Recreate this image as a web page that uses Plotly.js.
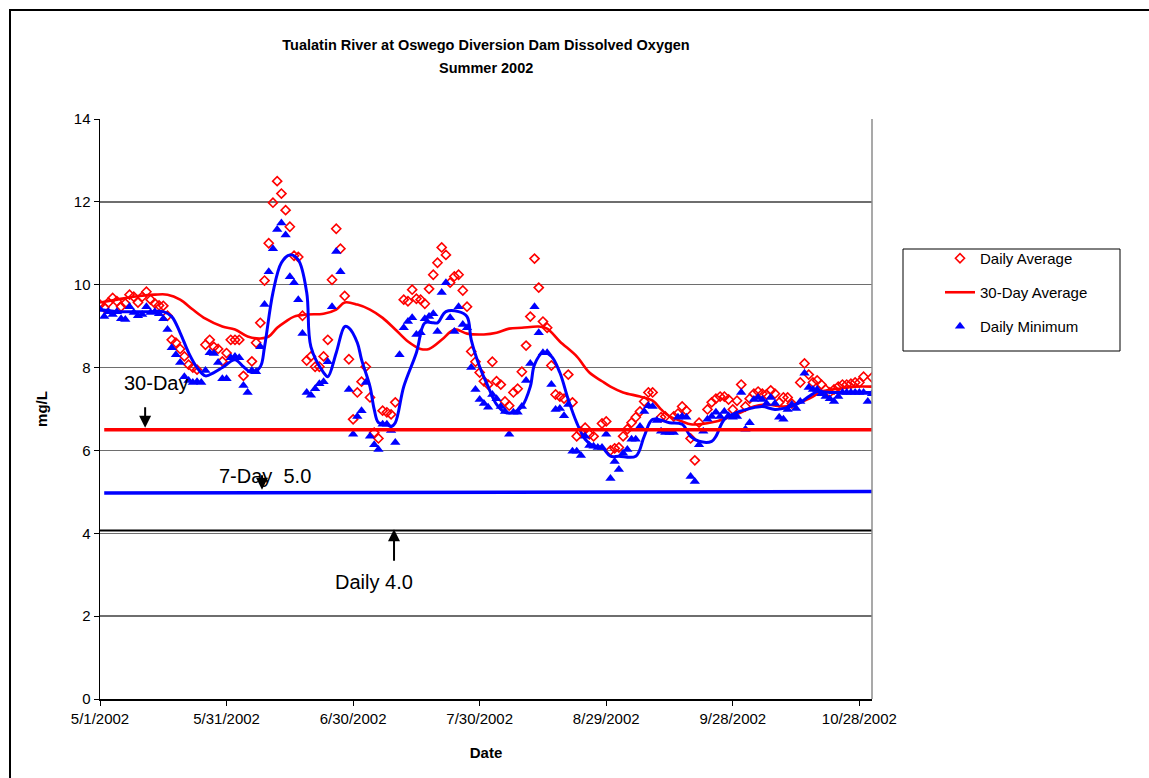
<!DOCTYPE html>
<html>
<head>
<meta charset="utf-8">
<script src="https://cdn.plot.ly/plotly-3.0.1.min.js"></script>
<style>
  html, body { margin: 0; padding: 0; background: #fff; overflow: hidden; }
  #chart { width: 1149px; height: 778px; }
  #frame { position: absolute; left: 9px; top: 9px; width: 1300px; height: 900px;
           border-left: 2px solid #000; border-top: 2px solid #000; pointer-events: none; }
</style>
</head>
<body>
<div id="chart"></div>
<div id="frame"></div>
<script>
// ---------- data (day 0 = 5/1/2002) ----------
const startDate = '2002-05-01';

const dailyAverage = [
  9.52, 9.45, 9.57, 9.68, 9.6, 9.47, 9.55, 9.76, 9.71, 9.57,
  9.71, 9.83, 9.64, 9.55, 9.5, 9.49, 9.25, 8.67, 8.6, 8.45,
  8.27, 8.07, 8.0, 7.95, null, 8.55, 8.67, 8.5, 8.45, 8.15,
  8.35, 8.67, 8.67, 8.67, 7.8, null, 8.15, 8.6, 9.08, 10.1,
  11.0, 11.98, 12.5, 12.2, 11.8, 11.4, 10.7, 10.67, 9.25, 8.17,
  8.27, 8.02, 8.02, 8.27, 8.67, 10.12, 11.35, 10.87, 9.73, 8.2,
  6.75, 7.4, 7.66, 8.02, 7.28, 6.43, 6.29, 6.96, 6.92, 6.87,
  7.16, null, 9.64, 9.6, 9.88, 9.66, 9.64, 9.54, 9.9, 10.24,
  10.53, 10.9, 10.72, 10.05, 10.2, 10.24, 9.86, 9.47, 8.39, 8.14,
  7.88, 7.67, 7.59, 8.14, 7.67, 7.59, 7.18, 7.08, 7.4, 7.49,
  7.9, 8.53, 9.23, 10.63, 9.93, 9.11, 8.96, 8.05, 7.35, 7.3,
  7.25, 7.83, 7.16, 6.34, 6.45, 6.55, 6.39, 6.34, null, 6.65,
  6.7, 6.0, 6.05, 6.07, 6.34, 6.51, 6.67, 6.8, 6.94, 7.18,
  7.4, 7.4, null, 6.8, 6.82, null, 6.82, 6.89, 7.06, 6.96,
  6.29, 5.76, 6.67, null, 6.99, 7.16, 7.25, 7.3, 7.3, 7.23,
  6.99, 7.2, 7.59, 7.06, 7.25, 7.37, 7.42, 7.37, 7.35, 7.45,
  7.37, 7.16, 7.28, 7.28, 7.13, null, 7.64, 8.1, 7.83, 7.64,
  7.69, 7.59, 7.47, 7.4, 7.47, 7.54, 7.59, 7.59, 7.61, 7.64,
  7.64, 7.78, null, 7.76
];

const dailyMinimum = [
  9.4, 9.23, 9.35, 9.28, 9.35, 9.18, 9.16, 9.47, 9.33, 9.25,
  9.28, 9.47, 9.33, 9.35, 9.3, 9.18, 8.92, 8.48, 8.31, 8.12,
  7.78, 7.69, 7.64, 7.66, 7.64, 7.93, 8.36, 8.34, 8.12, 7.73,
  7.73, 8.24, 8.27, 8.24, 7.57, 7.4, 7.93, 7.9, 8.5, 9.52,
  10.31, 10.87, 11.33, 11.49, 11.2, 10.19, 10.05, 9.64, 8.82, 7.4,
  7.33, 7.49, 7.61, 7.66, 8.14, 9.47, 10.8, 10.31, null, 7.47,
  6.39, 6.82, 6.96, 7.64, 6.34, 6.14, 6.02, 6.63, 6.63, 6.48,
  6.19, 8.31, 8.96, 9.11, 9.2, 8.8, 8.84, 9.18, 9.23, 9.3,
  8.87, 9.81, 10.05, 9.2, 8.87, 9.47, 9.04, 8.96, 8.0, 7.47,
  7.23, 7.13, 7.04, 7.35, 7.25, 7.06, 6.94, 6.39, 6.92, 6.92,
  7.06, 7.69, 8.1, 9.47, 8.84, 8.36, 8.36, 7.59, 6.99, 7.01,
  6.84, 7.11, 5.98, 5.98, 5.88, 6.34, 6.12, 6.1, 6.07, 6.07,
  6.39, 5.32, 5.73, 5.54, 5.93, 6.02, 6.27, 6.27, 6.58, 6.94,
  7.08, 7.06, 6.72, 6.46, 6.43, 6.43, 6.43, 6.8, 6.82, 6.8,
  5.37, 5.25, 6.14, 6.46, 6.75, 6.82, 6.92, 6.82, 6.94, 6.84,
  6.8, 6.82, 7.4, 6.51, 6.67, 7.23, 7.28, 7.23, 7.13, 7.28,
  7.13, 6.8, 6.75, 6.99, 7.11, 7.01, 7.18, 7.86, 7.52, 7.47,
  7.47, 7.37, 7.3, 7.25, 7.18, 7.3, 7.4, 7.4, 7.4, 7.4,
  7.4, 7.4, 7.18, 7.37
];

// 30-day running average
const avg30Days = [0, 4, 8, 13, 16, 19, 22, 25, 29, 32, 35, 38, 40, 42, 44, 46, 49, 53, 56, 58,
  61, 64, 67, 70, 73, 76, 78, 81, 84, 87, 91, 94, 97, 100, 104, 106, 109, 113, 116, 119,
  121, 124, 128, 131, 133, 135, 138, 140, 142, 146, 149, 152, 155, 158, 162, 166, 169, 171, 175, 179, 183];
const avg30Vals = [9.57, 9.64, 9.71, 9.76, 9.76, 9.64, 9.4, 9.18, 8.99, 8.92, 8.75, 8.7, 8.75, 8.96, 9.11, 9.23, 9.28, 9.3, 9.4, 9.57,
  9.52, 9.4, 9.2, 8.92, 8.63, 8.45, 8.45, 8.67, 8.92, 8.82, 8.8, 8.84, 8.94, 8.96, 8.99, 8.94, 8.63, 8.27, 7.88, 7.67,
  7.54, 7.4, 7.3, 7.2, 6.99, 6.82, 6.7, 6.63, 6.63, 6.7, 6.8, 6.92, 7.06, 7.11, 7.06, 7.16, 7.3, 7.42, 7.49, 7.54, 7.54];

// 7-day running average of the daily minimum
const min7Days = [0, 4, 8, 12, 15, 17, 19, 21, 23, 25, 27, 29, 32, 34, 36, 38, 39, 41, 43, 45,
  47, 49, 50, 53, 54, 56, 58, 59, 61, 62, 64, 65, 66, 68, 69, 70, 72, 75, 77, 79,
  80, 82, 85, 87, 88, 90, 92, 94, 96, 98, 100, 102, 103, 105, 107, 109, 111, 113, 115, 117,
  119, 121, 123, 127, 129, 131, 135, 138, 140, 142, 145, 146, 148, 151, 154, 157, 160, 163, 166, 168,
  170, 173, 176, 180, 183];
const min7Vals = [9.4, 9.35, 9.35, 9.35, 9.35, 9.23, 8.84, 8.36, 8.0, 7.8, 7.88, 8.0, 8.19, 8.02, 7.88, 8.02, 8.5, 9.81, 10.53, 10.72,
  10.6, 9.81, 8.5, 7.88, 7.78, 8.36, 8.99, 8.96, 8.6, 8.19, 7.54, 6.99, 6.67, 6.63, 6.58, 6.67, 7.54, 8.36, 9.08, 9.08,
  9.08, 9.35, 9.35, 9.23, 8.67, 8.02, 7.54, 7.11, 6.92, 6.92, 7.06, 7.54, 8.07, 8.36, 8.27, 7.88, 7.23, 6.67, 6.27, 6.1,
  6.07, 5.86, 5.86, 5.86, 6.34, 6.75, 6.67, 6.63, 6.34, 6.22, 6.22, 6.34, 6.75, 6.92, 7.01, 7.06, 6.99, 7.04, 7.16, 7.3,
  7.42, 7.4, 7.4, 7.4, 7.4];

// criteria lines
const criterion30Days = [1, 183], criterion30Vals = [6.5, 6.5];
const criterion7Days  = [1, 183], criterion7Vals  = [4.97, 5.01];
const criterion1Days  = [0, 183], criterion1Vals  = [4.07, 4.07];

const tickDays   = [0, 30, 60, 90, 120, 150, 180];
const tickLabels = ['5/1/2002', '5/31/2002', '6/30/2002', '7/30/2002', '8/29/2002', '9/28/2002', '10/28/2002'];

// ---------- helpers ----------
const t0 = Date.parse(startDate + 'T00:00:00Z');
function dayDate(d) {
  return new Date(t0 + d * 86400000).toISOString().slice(0, 16).replace('T', ' ');
}
const dailyDates = dailyAverage.map((_, i) => dayDate(i));

const FONT = 'Arial, "Liberation Sans", sans-serif';
const TOP = 119, BOTTOM = 699, LEFT = 100, RIGHT = 872;
const px2py = p => (BOTTOM - p) / (BOTTOM - TOP);   // pixel row -> paper y
const px2px = p => (p - LEFT) / (RIGHT - LEFT);     // pixel col -> paper x

const traces = [
  { name: 'Daily Average', x: dailyDates, y: dailyAverage, type: 'scatter', mode: 'markers',
    marker: { symbol: 'diamond-open', size: 7, color: '#ff0000', line: { width: 1.6, color: '#ff0000' } },
    legendgroup: 'a', legendrank: 1 },
  { name: '30-Day Average', x: avg30Days.map(dayDate), y: avg30Vals, type: 'scatter', mode: 'lines',
    line: { color: '#ff0000', width: 2.6, shape: 'spline', smoothing: 1 },
    legendgroup: 'b', legendrank: 2 },
  { name: 'Daily Minimum', x: dailyDates, y: dailyMinimum, type: 'scatter', mode: 'markers',
    marker: { symbol: 'triangle-up', size: 9, color: '#0000ff' },
    legendgroup: 'c', legendrank: 3 },
  { name: '7-Day Average Minimum', x: min7Days.map(dayDate), y: min7Vals, type: 'scatter', mode: 'lines',
    line: { color: '#0000ff', width: 3, shape: 'spline', smoothing: 1 }, showlegend: false },
  { name: '30-Day criterion', x: criterion30Days.map(dayDate), y: criterion30Vals, mode: 'lines',
    line: { color: '#ff0000', width: 3.5 }, showlegend: false },
  { name: '7-Day criterion', x: criterion7Days.map(dayDate), y: criterion7Vals, mode: 'lines',
    line: { color: '#0000ff', width: 3.5 }, showlegend: false },
  { name: 'Daily criterion', x: criterion1Days.map(dayDate), y: criterion1Vals, mode: 'lines',
    line: { color: '#000000', width: 2 }, showlegend: false }
];

const txt = { family: FONT, size: 20, color: '#000' };
const arrowStyle = { showarrow: true, arrowhead: 2, arrowsize: 1.2, arrowwidth: 2, arrowcolor: '#000',
                     text: '', standoff: 0, ax: 0, axref: 'pixel', ayref: 'pixel' };
const titleFont = { family: FONT, size: 14.5, weight: 'bold', color: '#000' };

const layout = {
  width: 1149, height: 778,
  margin: { l: LEFT, r: 1149 - RIGHT, t: TOP, b: 778 - BOTTOM },
  paper_bgcolor: '#fff', plot_bgcolor: '#fff',
  font: { family: FONT, size: 15, color: '#000' },
  title: {
    text: 'Tualatin River at Oswego Diversion Dam Dissolved Oxygen',
    font: titleFont,
    xref: 'paper', x: 0.5, xanchor: 'center',
    yref: 'container', y: 1 - 45 / 778, yanchor: 'middle'
  },
  xaxis: {
    type: 'date', range: [dayDate(0), dayDate(183)],
    tickvals: tickDays.map(dayDate), ticktext: tickLabels,
    ticks: 'outside', ticklen: 5, tickcolor: '#000', tickwidth: 1,
    showline: true, linecolor: '#000', linewidth: 1.5,
    showgrid: false, zeroline: false,
    tickfont: { family: FONT, size: 15 },
    title: { text: 'Date', font: { family: FONT, size: 15, weight: 'bold' }, standoff: 22 }
  },
  yaxis: {
    range: [0, 14], dtick: 2, tick0: 0,
    ticks: 'outside', ticklen: 5, tickcolor: '#000', tickwidth: 1,
    showline: true, linecolor: '#000', linewidth: 1.5,
    showgrid: true, gridcolor: '#6e6e6e', gridwidth: 1.3, zeroline: false,
    tickfont: { family: FONT, size: 15 },
    title: { text: 'mg/L', font: { family: FONT, size: 15, weight: 'bold' }, standoff: 22 }
  },
  showlegend: true,
  legend: {
    x: px2px(940), xanchor: 'left', y: px2py(242), yanchor: 'top',
    bgcolor: 'rgba(0,0,0,0)', borderwidth: 0,
    font: { family: FONT, size: 15, color: '#000' },
    traceorder: 'grouped', tracegroupgap: 11.5
  },
  shapes: [
    { type: 'line', xref: 'paper', yref: 'paper', x0: 1, x1: 1, y0: 0, y1: 1,
      line: { color: '#8c8c8c', width: 1.5 } },
    { type: 'rect', xref: 'paper', yref: 'paper',
      x0: px2px(903), x1: px2px(1120), y0: px2py(351), y1: px2py(249),
      line: { color: '#000', width: 1 }, fillcolor: 'rgba(0,0,0,0)' }
  ],
  annotations: [
    { x: 0.5, y: px2py(68), xref: 'paper', yref: 'paper', showarrow: false,
      text: 'Summer 2002', font: titleFont, xanchor: 'center', yanchor: 'middle' },
    { x: dayDate(13.3), y: 7.63, xref: 'x', yref: 'y', showarrow: false, text: '30-Day', font: txt },
    { x: dayDate(39), y: 5.39, xref: 'x', yref: 'y', showarrow: false, text: '7-Day\u00a0 5.0', font: txt },
    { x: dayDate(65), y: 2.83, xref: 'x', yref: 'y', showarrow: false, text: 'Daily 4.0', font: txt },
    Object.assign({}, arrowStyle, { x: dayDate(10.7), y: 6.55, xref: 'x', yref: 'y', ay: -22 }),
    Object.assign({}, arrowStyle, { x: dayDate(38.4), y: 5.05, xref: 'x', yref: 'y', ay: -16 }),
    Object.assign({}, arrowStyle, { x: dayDate(69.7), y: 4.1, xref: 'x', yref: 'y', ay: 33 })
  ]
};

Plotly.newPlot('chart', traces, layout, { displayModeBar: false, staticPlot: true });
</script>
</body>
</html>
